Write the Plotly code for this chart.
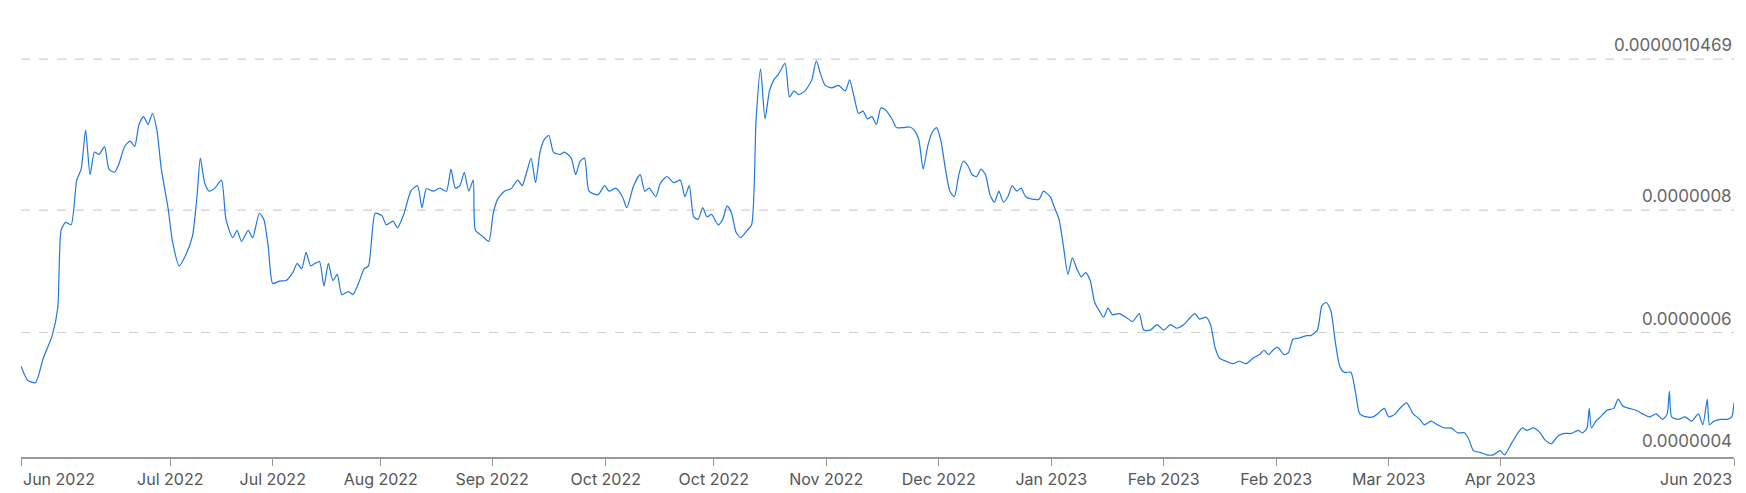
import plotly.graph_objects as go

# time position (arbitrary time units along the axis)
t = [0,6,13,20,28,33,36,40,45,50,54,58,62,66,70,75,79,84,88,93,98,102,106,110,114,118,122,126,132,136,142,148,154,158,161,165,169,174,180,184,190,194,198,204,208,214,218,222,226,232,238,244,248,252,256,260,264,268,272,276,280,284,288,294,298,304,308,312,318,324,328,334,338,344,350,356,360,364,370,376,382,386,390,394,398,402,406,408,414,420,424,428,434,440,446,450,454,458,462,466,470,474,478,484,488,494,498,502,506,510,518,524,528,534,540,544,550,556,560,564,570,574,580,586,592,596,600,604,608,612,616,620,626,630,634,638,642,646,652,656,660,664,668,672,676,680,686,690,694,698,704,710,714,718,722,728,734,740,744,748,752,756,760,764,768,772,776,782,786,792,798,802,806,810,814,818,822,826,830,834,838,842,846,850,854,858,862,866,870,874,878,882,886,890,894,898,902,908,914,918,924,928,932,936,940,944,948,952,956,960,964,968,972,976,980,986,992,998,1004,1008,1014,1020,1026,1032,1038,1044,1050,1054,1058,1064,1068,1072,1076,1082,1088,1094,1100,1106,1112,1116,1120,1124,1128,1134,1138,1142,1148,1154,1158,1164,1168,1172,1176,1180,1184,1188,1194,1198,1202,1208,1214,1218,1224,1228,1234,1238,1244,1250,1256,1260,1266,1272,1278,1284,1290,1296,1300,1304,1310,1316,1322,1328,1332,1338,1344,1348,1352,1358,1364,1368,1374,1380,1386,1392,1398,1402,1406,1408,1410,1414,1418,1424,1430,1434,1438,1444,1450,1456,1462,1468,1474,1478,1480,1482,1488,1494,1500,1506,1510,1514,1516,1520,1526,1532,1536,1538]
# price in nano-units (1e-9)
price_n = [545,522,518,558,595,640,767,780,776,849,867,931,858,895,891,904,867,862,876,904,913,904,940,953,940,958,931,867,804,749,709,727,758,822,885,844,831,836,849,785,755,767,749,767,755,795,785,740,680,684,685,698,713,704,731,709,713,716,676,713,685,695,662,667,662,685,704,709,795,791,776,782,771,795,831,840,804,835,831,836,831,867,836,840,862,831,849,767,758,749,795,818,831,835,849,840,862,885,845,895,916,922,895,891,895,885,858,880,885,831,825,840,831,836,822,804,840,858,831,836,822,844,855,845,849,822,840,789,785,804,789,793,776,785,807,795,764,755,767,776,949,1031,949,995,1013,1022,1040,985,995,989,995,1013,1044,1022,1004,1000,1004,995,1013,985,958,962,949,953,940,967,964,949,935,935,936,931,916,867,904,927,935,913,867,831,822,858,880,873,858,855,867,858,825,813,831,813,822,840,831,836,822,818,818,831,822,804,785,740,695,722,704,691,698,685,649,636,625,640,629,631,625,618,631,604,604,613,604,613,607,613,625,631,622,625,613,576,558,553,549,553,549,558,564,571,564,571,576,564,567,589,591,595,595,604,644,649,636,585,545,535,535,504,467,462,462,467,476,462,467,476,485,467,458,449,455,449,444,444,436,436,425,407,404,400,400,407,400,418,436,444,440,444,436,425,418,431,435,435,440,436,444,476,444,455,462,473,476,491,480,476,473,467,462,467,458,467,504,462,458,462,455,467,449,491,449,455,458,458,462,485]
price = [v * 1e-9 for v in price_n]

tick_pos = [0,134,226,323,423,525,622,723,824,925,1026,1127,1228,1328,1538]
tick_text = ["Jun 2022","Jul 2022","Jul 2022","Aug 2022","Sep 2022","Oct 2022","Oct 2022","Nov 2022","Dec 2022","Jan 2023","Feb 2023","Feb 2023","Mar 2023","Apr 2023","Jun 2023"]
grid_vals = [0.0000004, 0.0000006, 0.0000008, 0.0000010469]
grid_text = ["0.0000004", "0.0000006", "0.0000008", "0.0000010469"]

fig = go.Figure(go.Scatter(x=t, y=price, mode="lines",
                           line=dict(color="#1f78de", width=1.2, shape="spline", smoothing=0.6),
                           hoverinfo="skip"))

shapes, annos = [], []
for v, txt in zip(grid_vals, grid_text):
    if v > 0.00000041:
        shapes.append(dict(type="line", xref="paper", x0=0, x1=1, yref="y", y0=v, y1=v,
                           line=dict(color="#cfcfcf", width=1.2, dash="dash"), layer="below"))
    annos.append(dict(xref="paper", x=1.0, y=v, yref="y", text=txt, showarrow=False,
                      xanchor="right", yanchor="bottom", yshift=2,
                      font=dict(size=17, color="#666"), bgcolor="rgba(255,255,255,0.85)"))

# edge tick labels kept inside the plot width
inner_text = [("" if i in (0, len(tick_text) - 1) else s) for i, s in enumerate(tick_text)]
annos.append(dict(xref="x", yref="paper", x=tick_pos[0], y=0, yshift=-10, text=tick_text[0],
                  showarrow=False, xanchor="left", yanchor="top", font=dict(size=16, color="#555")))
annos.append(dict(xref="x", yref="paper", x=tick_pos[-1], y=0, yshift=-10, text=tick_text[-1],
                  showarrow=False, xanchor="right", yanchor="top", font=dict(size=16, color="#555")))

fig.update_layout(
    width=1746, height=493,
    margin=dict(l=13, r=20, t=37, b=42),
    paper_bgcolor="white", plot_bgcolor="white",
    font=dict(family="Inter, Noto Sans, sans-serif", color="#555", size=16),
    showlegend=False, shapes=shapes, annotations=annos,
    xaxis=dict(range=[0, 1538], tickvals=tick_pos, ticktext=inner_text, showgrid=False,
               showline=True, linecolor="#999", linewidth=1.5, ticks="outside", ticklen=7,
               tickcolor="#999", zeroline=False, tickfont=dict(size=16, color="#555")),
    yaxis=dict(range=[0.0000003965, 0.00000107], showgrid=False, showticklabels=False,
               zeroline=False),
)
fig.write_html("out.html")
